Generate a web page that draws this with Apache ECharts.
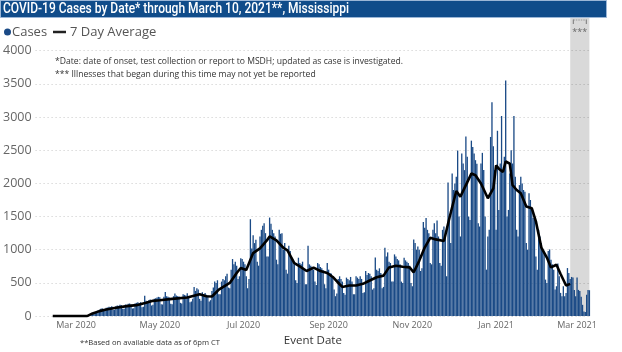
<!DOCTYPE html>
<html><head><meta charset="utf-8">
<script src="https://cdn.jsdelivr.net/npm/echarts@6/dist/echarts.min.js"></script>
<style>html,body{margin:0;padding:0;background:#fff}#c{width:622px;height:352px}</style>
</head><body><div id="c"></div>
<script>
// ---------------- data ----------------
const axisStart = '2020-02-01';
const axisEnd = '2021-03-10';
const casesStart = '2020-03-08';
// daily cases by event date, one row per week (Sun..Sat)
const cases = [
  0, 2, 5, 12, 25, 40, 55,
  60, 70, 85, 95, 110, 120, 90,
  85, 125, 130, 140, 135, 150, 95,
  95, 150, 160, 155, 170, 165, 110,
  110, 175, 170, 185, 190, 175, 115,
  120, 190, 200, 210, 195, 210, 135,
  140, 305, 230, 220, 240, 250, 160,
  170, 260, 270, 280, 290, 285, 180,
  175, 290, 365, 300, 290, 280, 185,
  180, 300, 340, 310, 300, 295, 200,
  190, 330, 320, 310, 345, 300, 210,
  220, 260, 440, 380, 420, 400, 260,
  230, 360, 330, 350, 320, 310, 220,
  240, 380, 430, 520, 500, 540, 330,
  330, 520, 560, 540, 600, 640, 430,
  420, 700, 860, 780, 820, 760, 560,
  600, 870, 860, 820, 780, 600, 420,
  560, 1460, 1020, 1220, 1100, 1150, 820,
  760, 1200, 1300, 1360, 1400, 1250, 900,
  900, 1485, 1390, 1300, 1250, 1200, 850,
  780, 1300, 1240, 1250, 1000, 1100, 700,
  640, 1060, 980, 880, 820, 780, 540,
  500, 880, 800, 780, 820, 700, 480,
  480, 1060, 780, 760, 740, 700, 520,
  470, 800, 780, 740, 720, 690, 480,
  420, 800, 700, 650, 640, 600, 400,
  300, 340, 560, 600, 560, 520, 350,
  320, 580, 560, 540, 590, 520, 330,
  330, 600, 580, 560, 600, 560, 350,
  360, 680, 620, 650, 640, 600, 400,
  420, 883, 700, 680, 720, 650, 420,
  440, 1030, 900, 960, 820, 800, 520,
  520, 930, 900, 860, 840, 780, 520,
  500, 880, 840, 820, 800, 760, 500,
  450, 1155, 1100, 1000, 1050, 1000, 680,
  720, 1418, 1330, 1480, 1300, 1250, 800,
  780, 1300, 1400, 1250, 1440, 1200, 800,
  760, 1300, 1350, 1200, 600, 2014, 1500,
  1100, 2148, 1900, 2000, 2100, 2495, 1500,
  1200, 2450, 2300, 2200, 2708, 2400, 1500,
  1450, 2644, 2550, 2450, 2350, 2296, 1400,
  1350, 2300, 2460, 2200, 1500, 700, 1200,
  1300, 2700, 3224, 2560, 2200, 1300, 2793,
  1600, 2300, 3016, 2200, 2400, 3551, 1500,
  1600, 2150, 2500, 2300, 3016, 2100, 1300,
  1200, 1974, 2100, 2000, 1900, 1875, 1100,
  1000, 1850, 1750, 1600, 1478, 1500, 900,
  700, 1300, 1200, 1100, 982, 950, 550,
  500, 982, 1005, 850, 780, 700, 400,
  450, 794, 600, 350, 300, 450, 300,
  350, 724, 650, 560, 590, 580, 395,
  300, 580, 395, 380, 290, 170, 70,
  60, 320, 395, 390
];
// 7 day average
const avg7 = [
  ['2020-02-13',0],['2020-03-09',0],['2020-03-13',40],['2020-03-18',75],['2020-03-23',100],
  ['2020-03-30',125],['2020-04-07',150],['2020-04-14',165],['2020-04-21',200],['2020-04-26',230],
  ['2020-05-01',240],['2020-05-10',260],['2020-05-21',280],['2020-05-30',330],['2020-06-04',300],
  ['2020-06-08',295],['2020-06-13',400],['2020-06-21',500],['2020-06-26',650],['2020-06-29',725],
  ['2020-07-03',695],['2020-07-08',950],['2020-07-13',1020],['2020-07-18',1140],['2020-07-20',1200],
  ['2020-07-25',1140],['2020-07-30',1030],['2020-08-02',990],['2020-08-07',800],['2020-08-11',750],
  ['2020-08-16',680],['2020-08-21',730],['2020-08-26',680],['2020-08-31',650],['2020-09-04',590],
  ['2020-09-09',480],['2020-09-11',440],['2020-09-16',461],['2020-09-21',461],['2020-09-26',486],
  ['2020-10-01',536],['2020-10-06',585],['2020-10-11',610],['2020-10-15',734],['2020-10-20',759],
  ['2020-10-25',744],['2020-10-30',734],['2020-11-02',660],['2020-11-06',833],['2020-11-10',1032],
  ['2020-11-14',1180],['2020-11-18',1156],['2020-11-24',1131],['2020-11-28',1478],['2020-12-03',1885],
  ['2020-12-06',1800],['2020-12-10',1974],['2020-12-14',2148],['2020-12-17',2123],['2020-12-21',1999],
  ['2020-12-26',1776],['2020-12-30',1924],['2021-01-01',2272],['2021-01-03',2222],['2021-01-06',2172],
  ['2021-01-08',2331],['2021-01-11',2296],['2021-01-13',1974],['2021-01-16',1900],['2021-01-19',1850],
  ['2021-01-23',1652],['2021-01-27',1627],['2021-01-30',1428],['2021-02-03',1032],['2021-02-07',883],
  ['2021-02-10',734],['2021-02-14',774],['2021-02-17',635],['2021-02-21',461],['2021-02-24',486]
];
const yMax = 4000;
const yStep = 500;
const labelMonths = [1, 3, 5, 7, 9, 11];
const monthNames = ['Jan','Feb','Mar','Apr','May','Jun','Jul','Aug','Sep','Oct','Nov','Dec'];
const shadeRange = ['2021-02-24', '2021-03-10'];
const titleText = 'COVID-19 Cases by Date* through March 10, 2021**, Mississippi';
const note1 = '*Date: date of onset, test collection or report to MSDH; updated as case is investigated.';
const note2 = '*** Illnesses that began during this time may not yet be reported';
const footNote = '**Based on available data as of 6pm CT';

// ---------------- build ----------------
const DAY = 86400000;
const ymd = t => new Date(t).toISOString().slice(0, 10);
const cats = [];
for (let t = Date.parse(axisStart + 'T00:00:00Z'); t <= Date.parse(axisEnd + 'T00:00:00Z'); t += DAY) cats.push(ymd(t));
const barData = cats.map(() => null);
const s0 = cats.indexOf(casesStart);
cases.forEach((v, i) => { if (s0 + i < barData.length) barData[s0 + i] = v; });

const isLabelDay = v => v.slice(8) === '01' && labelMonths.indexOf(+v.slice(5, 7)) >= 0;
const FONT = "'Segoe UI','Open Sans',sans-serif";
const BLUE = '#1a4a86';

// title compression to fit condensed look
const cv = document.createElement('canvas').getContext('2d');
cv.font = '500 15px Roboto';
const titleScale = 346 / cv.measureText(titleText).width;

const chart = echarts.init(document.getElementById('c'));
const option = {
  animation: false,
  grid: { left: 35.5, right: 31.9, top: 17.5, bottom: 32.5 },
  xAxis: {
    type: 'category', data: cats, boundaryGap: true,
    axisLine: { show: false }, axisTick: { show: false },
    axisLabel: {
      interval: (i, v) => isLabelDay(v),
      formatter: v => isLabelDay(v) ? monthNames[+v.slice(5, 7) - 1] + ' ' + v.slice(0, 4) : '',
      fontSize: 9, color: '#666', margin: 5, fontFamily: FONT
    },
    name: 'Event Date', nameLocation: 'middle', nameGap: 18,
    nameTextStyle: { fontSize: 11.5, color: '#333', fontFamily: FONT }
  },
  yAxis: {
    type: 'value', min: 0, max: yMax + yStep, interval: yStep,
    axisLine: { show: false }, axisTick: { show: false },
    axisLabel: { formatter: v => v > yMax ? '' : String(v), fontSize: 12.5, color: '#666', margin: 4, fontFamily: FONT },
    splitLine: { show: true, showMaxLine: false,
      lineStyle: { color: ['#c8c8c8','#c8c8c8','#c8c8c8','#c8c8c8','#c8c8c8','#c8c8c8','#c8c8c8','#c8c8c8','#c8c8c8','rgba(0,0,0,0)'], type: [1, 3], width: 1 } }
  },
  series: [
    { type: 'line', name: 'shade', data: [], z: 1, silent: true,
      markArea: { silent: true, itemStyle: { color: 'rgba(0,0,0,0.15)' },
        data: [[{ xAxis: shadeRange[0] }, { xAxis: shadeRange[1] }]] } },
    { type: 'bar', name: 'Cases', data: barData, z: 2, barCategoryGap: '4%',
      itemStyle: { color: BLUE } },
    { type: 'line', name: '7 Day Average', data: avg7, z: 3, showSymbol: false, symbol: 'none',
      lineStyle: { color: '#000', width: 2.6 } }
  ],
  graphic: [
    { type: 'rect', left: 0, top: 0, shape: { x: 0, y: 0, width: 606, height: 17 },
      style: { fill: '#104c8a', stroke: '#9bb6d6', lineWidth: 1 }, z: 10 },
    { type: 'text', x: 3, y: 9, scaleX: titleScale, z: 11,
      style: { text: titleText, fill: '#fff', font: '500 15px Roboto', verticalAlign: 'middle' } },
    { type: 'circle', shape: { cx: 7.5, cy: 32, r: 3.5 }, style: { fill: BLUE }, z: 11 },
    { type: 'text', x: 12, y: 32, z: 11,
      style: { text: 'Cases', fill: '#555', font: '13px ' + FONT, verticalAlign: 'middle' } },
    { type: 'line', shape: { x1: 53, y1: 32, x2: 66, y2: 32 }, style: { stroke: '#222', lineWidth: 2.5 }, z: 11 },
    { type: 'text', x: 70, y: 32, z: 11,
      style: { text: '7 Day Average', fill: '#555', font: '13px ' + FONT, verticalAlign: 'middle' } },
    { type: 'text', x: 55, y: 62, z: 11,
      style: { text: note1, fill: '#333', font: '8.6px ' + FONT, verticalAlign: 'middle' } },
    { type: 'text', x: 55, y: 75, z: 11,
      style: { text: note2, fill: '#333', font: '8.6px ' + FONT, verticalAlign: 'middle' } },
    { type: 'text', x: 80, y: 343, z: 11,
      style: { text: footNote, fill: '#333', font: '7.6px ' + FONT, verticalAlign: 'middle' } }
  ]
};
chart.setOption(option);

// interval bracket and *** above the shaded (incomplete) period
const xa = chart.convertToPixel({ xAxisIndex: 0 }, shadeRange[0]);
const xb = chart.convertToPixel({ xAxisIndex: 0 }, shadeRange[1]);
const cx = (xa + xb) / 2;
chart.setOption({ graphic: option.graphic.concat([
  { type: 'line', shape: { x1: cx - 6.5, y1: 19.5, x2: cx - 6.5, y2: 24 }, style: { stroke: '#777', lineWidth: 1 }, z: 11 },
  { type: 'line', shape: { x1: cx + 6.5, y1: 19.5, x2: cx + 6.5, y2: 24 }, style: { stroke: '#777', lineWidth: 1 }, z: 11 },
  { type: 'line', shape: { x1: cx - 6.5, y1: 20, x2: cx + 6.5, y2: 20 }, style: { stroke: '#888', lineWidth: 0.8, lineDash: [1.5, 1] }, z: 11 },
  { type: 'text', x: cx, y: 32, z: 11,
    style: { text: '***', fill: '#666', font: '9px ' + FONT, align: 'center', verticalAlign: 'middle' } }
]) });
</script>
</body></html>
